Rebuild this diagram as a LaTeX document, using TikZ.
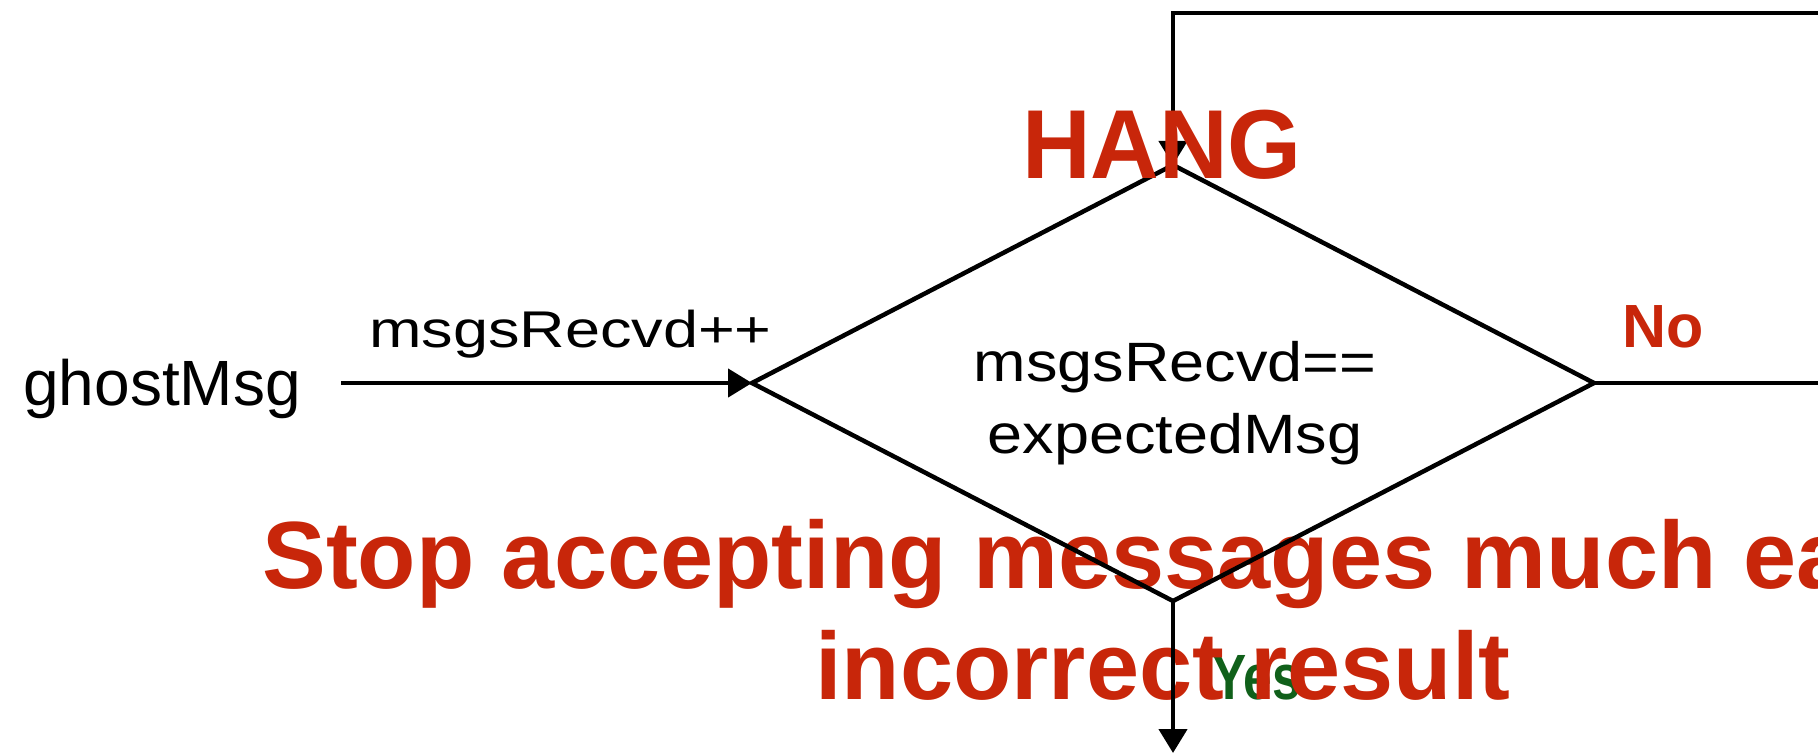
\documentclass[tikz,border=0pt]{standalone}
\usepackage{fontspec}
\setmainfont{Liberation Sans}
\usetikzlibrary{shapes.geometric,arrows.meta}
\definecolor{alertred}{RGB}{200,38,10}
\definecolor{yesgreen}{RGB}{16,96,26}
\begin{document}
\begin{tikzpicture}[x=0.5pt,y=-0.5pt,
  flow/.style={line width=2.25pt, draw=black},
  tip/.style={-{Triangle[width=14pt,length=12pt]}},
  decision/.style={draw, line width=2.25pt, shape=diamond, shape aspect=2,
    inner sep=0pt, outer sep=0pt, minimum width=421pt, minimum height=218pt},
  txt/.style={inner sep=0pt, font=\fontsize{31.5pt}{33pt}\selectfont},
  alert/.style={inner sep=0pt, text=alertred, font=\bfseries\fontsize{47.75pt}{50pt}\selectfont},
  nolabel/.style={inner sep=0pt, text=alertred, font=\bfseries\fontsize{30.5pt}{32pt}\selectfont},
  yeslabel/.style={inner sep=0pt, text=yesgreen, font=\bfseries\fontsize{32pt}{34pt}\selectfont},
  hang/.style={inner sep=0pt, text=alertred, font=\bfseries\fontsize{49pt}{50pt}\selectfont}]
\useasboundingbox (0,0) rectangle (1818,754);
\clip (0,0) rectangle (1818,754);

% yes branch label (sits under the warning text)
\node[yeslabel, anchor=base west] (yes) at (1212,699) {\scalebox{0.8}[1]{Yes}};

% warning text
\node[alert, anchor=base west] (warn1) at (262,588) {Stop accepting messages much ea};
\node[alert, anchor=base] (warn2) at (1163,699) {incorrect result};

% input and decision
\node[txt, font=\fontsize{32pt}{33pt}\selectfont, anchor=base west] (ghost) at (23,405) {ghostMsg};
\node[decision] (dec) at (1173,383) {};
\node[txt, align=center] (cond) at (1175,403)
  {\scalebox{1}[0.88]{msgsRecvd==}\\[3pt]\scalebox{1}[0.88]{expectedMsg}};

\coordinate (loopR) at (1900,383);
\coordinate (loopTop) at (1173,13);
\coordinate (exitEnd) at (1173,753);

% connectors
\draw[flow, tip] ([xshift=20pt]ghost.east |- dec.west) --
  node[txt, pos=0.558, anchor=base, yshift=18pt] (inc) {\scalebox{1}[0.82]{msgsRecvd++}} (dec.west);
\draw[flow, tip] (dec.east) -- (loopR) |- (loopTop) -- (dec.north);
\draw[flow, tip] (dec.south) -- (exitEnd);

\node[nolabel, anchor=base west] (no) at (1622,347) {No};
\node[hang, anchor=base] (hangtxt) at (1162,179) {\scalebox{0.97}[1]{HANG}};
\end{tikzpicture}
\end{document}
